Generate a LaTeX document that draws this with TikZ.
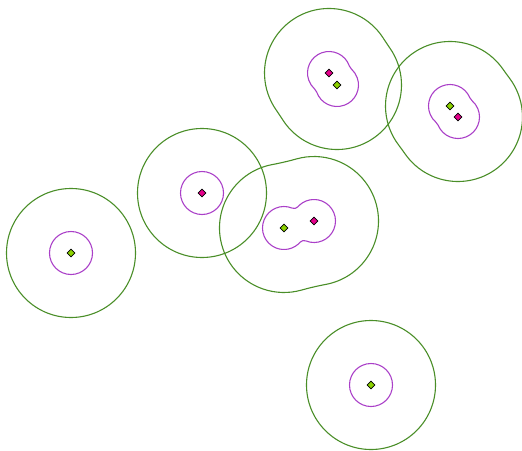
\documentclass[tikz,border=0pt]{standalone}
\usepackage{tikz}
\usetikzlibrary{calc,shapes.geometric}
\definecolor{ringgreen}{RGB}{74,142,40}
\definecolor{ringpurple}{RGB}{170,64,200}
\definecolor{dotgreen}{RGB}{140,210,0}
\definecolor{dotpink}{RGB}{230,0,140}
\tikzset{
  greendot/.style={diamond, draw=black, line width=0.6pt, fill=dotgreen, minimum size=8pt, inner sep=0pt},
  pinkdot/.style={diamond, draw=black, line width=0.6pt, fill=dotpink, minimum size=8pt, inner sep=0pt},
  innerring/.style={draw=ringpurple, line width=1.1pt, line join=round},
  outerring/.style={draw=ringgreen, line width=1.1pt, line join=round}
}
% outline round two equal circles (#2, #3, radius #4), the waist rounded with radius #5
\newcommand{\ringpair}[5]{%
  \draw[#1] let \p1=($(#3.center)-(#2.center)$), \n1={atan2(\y1,\x1)}, \n2={acos(veclen(\x1,\y1)/(2*(#4+#5)))} in
    ($(#2.center)+(\n1+\n2:#4)$) arc[start angle=\n1+\n2, end angle=\n1+360-\n2, radius=#4]
    arc[start angle=\n1-\n2+180, end angle=\n1+\n2, radius=#5]
    arc[start angle=\n1+180+\n2, end angle=\n1+540-\n2, radius=#4]
    arc[start angle=\n1-\n2, end angle=\n1+\n2-180, radius=#5] -- cycle;
}

\begin{document}
\begin{tikzpicture}[x=1pt, y=1pt]
    \useasboundingbox (0,0) rectangle (522,-450);

    \node[pinkdot] (pinkA) at (329,-73) {};
    \node[greendot] (greenA) at (337,-85) {};
    \node[greendot] (greenB) at (450,-106) {};
    \node[pinkdot] (pinkB) at (458,-117) {};
    \node[pinkdot] (pinkC) at (202,-193) {};
    \node[greendot] (greenD) at (284,-228) {};
    \node[pinkdot] (pinkD) at (314,-221) {};
    \node[greendot] (greenE) at (71,-253) {};
    \node[greendot] (greenF) at (371,-385) {};

    \ringpair{innerring}{pinkA}{greenA}{21.5pt}{8pt}
    \ringpair{outerring}{pinkA}{greenA}{64.5pt}{300pt}
    \ringpair{innerring}{greenB}{pinkB}{21.5pt}{8pt}
    \ringpair{outerring}{greenB}{pinkB}{64.5pt}{300pt}
    \ringpair{innerring}{greenD}{pinkD}{21.5pt}{5pt}
    \ringpair{outerring}{greenD}{pinkD}{64.5pt}{300pt}

    \foreach \dot in {pinkC, greenE, greenF} {
      \draw[innerring] (\dot.center) circle[radius=21.5pt];
      \draw[outerring] (\dot.center) circle[radius=64.5pt];
    }
\end{tikzpicture}
\end{document}
